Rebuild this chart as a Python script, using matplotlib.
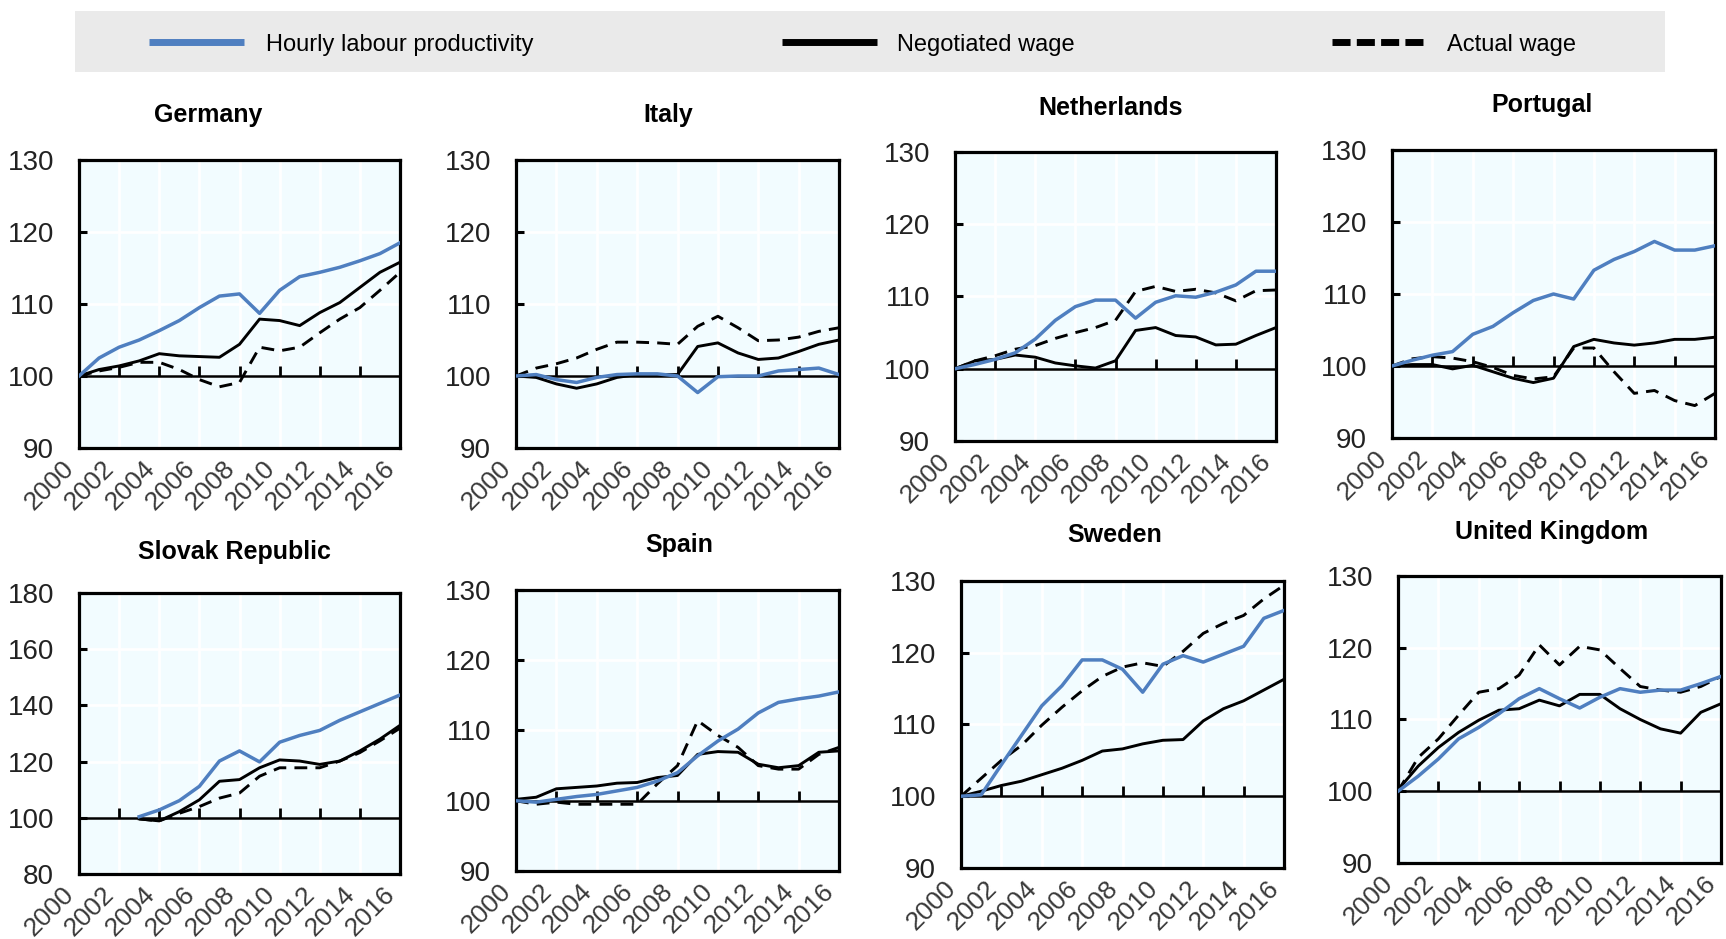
import matplotlib
matplotlib.use("Agg")
import matplotlib.pyplot as plt
from matplotlib.markers import TICKUP

plt.rcParams['font.family'] = ['Liberation Sans Narrow', 'Liberation Sans', 'DejaVu Sans']

years = list(range(2000, 2017))
years_sk = list(range(2003, 2017))

# Index 2000 = 100 (Slovak Republic from 2003)
germany_prod = [100, 102.5, 104, 105, 106.3, 107.7, 109.5, 111.1, 111.4, 108.7, 111.9, 113.8, 114.4, 115.1, 116, 117, 118.5]
germany_neg = [100, 100.9, 101.4, 102.1, 103.1, 102.8, 102.7, 102.6, 104.4, 107.9, 107.7, 107, 108.8, 110.2, 112.3, 114.4, 115.8]
germany_act = [100, 100.7, 101.2, 101.9, 101.9, 100.9, 99.5, 98.5, 99.1, 104, 103.5, 104, 106, 107.9, 109.5, 111.9, 114.4]

italy_prod = [100, 100.2, 99.5, 99.1, 99.8, 100.2, 100.3, 100.3, 100, 97.7, 99.9, 100, 100, 100.7, 100.9, 101.1, 100.2]
italy_neg = [100, 99.8, 98.9, 98.3, 98.9, 99.8, 100.2, 100.2, 100.2, 104.1, 104.6, 103.2, 102.3, 102.5, 103.4, 104.4, 105]
italy_act = [100, 101.1, 101.7, 102.5, 103.7, 104.7, 104.7, 104.6, 104.4, 106.9, 108.3, 106.7, 104.9, 105, 105.4, 106.2, 106.7]

netherlands_prod = [100, 100.6, 101.3, 102.2, 104.1, 106.7, 108.6, 109.5, 109.5, 107, 109.2, 110.1, 109.9, 110.6, 111.6, 113.5, 113.5]
netherlands_neg = [100, 101.1, 101.3, 101.9, 101.6, 100.8, 100.4, 100.1, 101.1, 105.3, 105.7, 104.6, 104.4, 103.3, 103.4, 104.6, 105.7]
netherlands_act = [100, 101.1, 101.8, 102.7, 103.2, 104.2, 105, 105.7, 106.7, 110.7, 111.4, 110.7, 111, 110.5, 109.4, 110.8, 110.9]

portugal_prod = [100, 100.8, 101.5, 102, 104.4, 105.5, 107.4, 109.1, 110, 109.3, 113.3, 114.8, 115.9, 117.3, 116.1, 116.1, 116.7]
portugal_neg = [100, 100.2, 100.2, 99.6, 100.1, 99.2, 98.3, 97.7, 98.3, 102.7, 103.7, 103.2, 102.9, 103.2, 103.7, 103.7, 104]
portugal_act = [100, 101, 101.3, 101.1, 100.6, 99.8, 98.7, 98.2, 98.5, 102.5, 102.5, 99.2, 96.2, 96.6, 95.2, 94.5, 96.2]

slovakia_prod = [100.4, 102.8, 106.1, 111.2, 120.2, 123.8, 119.9, 126.9, 129.3, 131.1, 134.7, 137.7, 140.7, 143.7]
slovakia_neg = [99.6, 98.9, 102.2, 106.4, 113, 113.6, 117.8, 120.6, 120.2, 119, 120.2, 123.8, 128, 132.9]
slovakia_act = [99.6, 98.9, 101.6, 104, 107, 108.8, 114.8, 117.8, 117.8, 117.8, 120.2, 123.2, 127.4, 131.9]

spain_prod = [100, 99.8, 100.2, 100.6, 100.9, 101.4, 101.9, 102.8, 104, 106.4, 108.5, 110.2, 112.5, 114, 114.5, 114.9, 115.5]
spain_neg = [100.2, 100.5, 101.7, 101.9, 102.1, 102.5, 102.6, 103.3, 103.6, 106.6, 107, 106.9, 105.2, 104.7, 105, 106.9, 107.1]
spain_act = [100, 99.5, 99.8, 99.5, 99.5, 99.5, 99.5, 102.4, 105, 111.4, 109.3, 107.6, 105, 104.5, 104.5, 106.6, 107.6]

sweden_prod = [100, 100.2, 104.4, 108.5, 112.6, 115.4, 119, 119, 117.7, 114.5, 118.4, 119.6, 118.7, 119.8, 120.9, 124.8, 125.9]
sweden_neg = [100, 100.7, 101.5, 102.1, 103, 103.9, 105, 106.3, 106.6, 107.3, 107.8, 107.9, 110.5, 112.2, 113.3, 114.8, 116.3]
sweden_act = [100, 102.5, 105, 107.1, 109.9, 112.4, 114.7, 116.7, 118, 118.6, 118.1, 120.2, 122.7, 124.1, 125.2, 127.5, 129.4]

uk_prod = [100, 102.1, 104.5, 107.3, 108.9, 110.8, 112.9, 114.3, 112.9, 111.6, 113.1, 114.3, 113.8, 114.1, 114.1, 115, 116]
uk_neg = [100.2, 103.5, 106.1, 108.2, 109.9, 111.3, 111.5, 112.7, 111.9, 113.5, 113.5, 111.5, 110, 108.7, 108.1, 111, 112.2]
uk_act = [100, 104.7, 107.3, 110.6, 113.8, 114.3, 116.2, 120.4, 117.6, 120.2, 119.7, 117.1, 114.6, 114.1, 113.8, 114.6, 116]

series_labels = ['Hourly labour productivity', 'Negotiated wage', 'Actual wage']
x_ticks = list(range(2000, 2017, 2))
y_ticks_main = [90, 100, 110, 120, 130]
y_ticks_sk = [80, 100, 120, 140, 160, 180]

BLUE = '#4f7fc0'
FACE = '#f2fcff'
W, H = 1726, 939

fig = plt.figure(figsize=(W / 100, H / 100), dpi=100)


def px_axes(x0, y0, x1, y1):
    return fig.add_axes([x0 / W, 1 - y1 / H, (x1 - x0) / W, (y1 - y0) / H])


# country, x-values, series, y ticks, axes box (px), title centre (px)
panels = [
    ('Germany', years, (germany_prod, germany_neg, germany_act), y_ticks_main, (79, 160, 400, 448), (208, 115)),
    ('Italy', years, (italy_prod, italy_neg, italy_act), y_ticks_main, (516, 160, 839, 448), (668, 115)),
    ('Netherlands', years, (netherlands_prod, netherlands_neg, netherlands_act), y_ticks_main, (955, 152, 1276, 441), (1111, 108)),
    ('Portugal', years, (portugal_prod, portugal_neg, portugal_act), y_ticks_main, (1392, 150, 1715, 438), (1542, 105)),
    ('Slovak Republic', years_sk, (slovakia_prod, slovakia_neg, slovakia_act), y_ticks_sk, (79, 593, 400, 874), (234, 552)),
    ('Spain', years, (spain_prod, spain_neg, spain_act), y_ticks_main, (516, 590, 839, 871), (679, 545)),
    ('Sweden', years, (sweden_prod, sweden_neg, sweden_act), y_ticks_main, (961, 581, 1284, 868), (1115, 535)),
    ('United Kingdom', years, (uk_prod, uk_neg, uk_act), y_ticks_main, (1398, 576, 1721, 863), (1552, 532)),
]

for name, xs, (prod, neg, act), yt, box, tpos in panels:
    ax = px_axes(*box)
    ax.set_facecolor(FACE)
    ax.set_xlim(2000, 2016)
    ax.set_ylim(yt[0], yt[-1])
    ax.set_xticks(x_ticks)
    ax.set_yticks(yt)
    ax.grid(True, color='white', linewidth=2)
    ax.set_axisbelow(True)
    for s in ax.spines.values():
        s.set_linewidth(2.3)
        s.set_color('black')
    ax.tick_params(axis='x', length=0, pad=6, labelsize=19, labelcolor='#3a3a3a',
                   labelrotation=45)
    for lab in ax.get_xticklabels():
        lab.set_ha('right')
        lab.set_va('top')
    ax.tick_params(axis='y', direction='in', length=6, width=2.2, pad=18,
                   labelsize=20, labelcolor='#222222')

    # baseline at 100 with upward year ticks
    ax.axhline(100, color='black', linewidth=1.8, zorder=3)
    ax.plot(x_ticks[1:-1], [100] * len(x_ticks[1:-1]), linestyle='none',
            marker=TICKUP, markersize=7.5, markeredgewidth=2, color='black', zorder=3)

    ax.plot(xs, act, color='black', linewidth=2.1, linestyle=(0, (4.4, 2.8)), zorder=4)
    ax.plot(xs, neg, color='black', linewidth=2.1, zorder=4)
    ax.plot(xs, prod, color=BLUE, linewidth=2.5, zorder=5)

    fig.text(tpos[0] / W, 1 - tpos[1] / H, name, ha='center', va='center',
             fontsize=18, fontweight='bold', family=['Liberation Sans', 'DejaVu Sans'])

# legend strip across the top
lax = px_axes(75, 11, 1665, 72)
lax.set_facecolor('#eaeaea')
lax.set_xlim(75, 1665)
lax.set_ylim(72, 11)
lax.set_xticks([])
lax.set_yticks([])
for s in lax.spines.values():
    s.set_visible(False)

legend_items = [
    (series_labels[0], BLUE, '-', 149, 244, 266),
    (series_labels[1], 'black', '-', 782, 877, 897),
    (series_labels[2], 'black', (0, (2.6, 0.9)), 1332, 1428, 1447),
]
for text, color, ls, x0, x1, tx in legend_items:
    lax.plot([x0, x1], [42, 42], color=color, linestyle=ls, linewidth=5,
             solid_capstyle='butt', dash_capstyle='butt')
    lax.text(tx, 45, text, ha='left', va='center', fontsize=17, color='black')

fig.savefig('out.png', dpi=100)
